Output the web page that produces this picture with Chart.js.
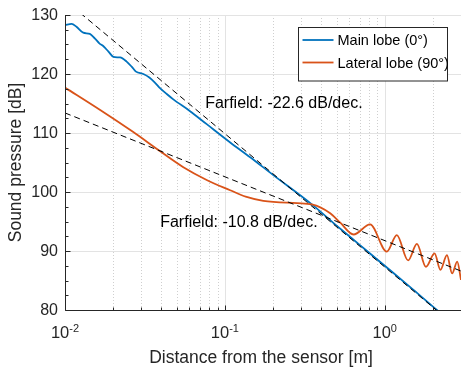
<!DOCTYPE html>
<html>
<head>
<meta charset="utf-8">
<script src="https://cdn.jsdelivr.net/npm/chart.js@4.4.0/dist/chart.umd.min.js"></script>
<style>
  html, body { margin: 0; padding: 0; background: #fff; }
</style>
</head>
<body>
<canvas id="myChart" width="461" height="367"></canvas>
<script>
// distance [m] and sound pressure [dB]
const mainX = [0.01, 0.011, 0.0118, 0.013, 0.0143, 0.0154, 0.0164, 0.0174, 0.0187, 0.0201, 0.0221, 0.0243, 0.0262, 0.0278, 0.0309, 0.0337, 0.0366, 0.0393, 0.0433, 0.0476, 0.0606, 0.077, 0.108, 0.144, 0.2, 0.35, 0.5, 0.7, 1.0, 1.5, 2.12, 2.3];
const mainY = [128.3, 128.5, 128.0, 127.0, 126.8, 126.0, 125.2, 124.7, 123.8, 122.9, 122.8, 122.1, 121.2, 120.4, 120.0, 119.4, 118.5, 117.6, 116.6, 115.7, 113.7, 111.5, 108.4, 105.9, 102.9, 97.9, 94.3, 91.0, 87.5, 83.5, 80.0, 79.2];

const latX = [0.01, 0.0166, 0.0266, 0.0394, 0.055, 0.0775, 0.108, 0.135, 0.174, 0.283, 0.35, 0.456, 0.527, 0.638, 0.81, 1.03, 1.19, 1.40, 1.59, 1.81, 2.05, 2.23, 2.45, 2.64, 2.84, 3.0];
const latY = [117.7, 113.9, 110.2, 106.9, 104.2, 102.0, 100.3, 99.2, 98.5, 98.1, 97.9, 96.4, 94.8, 92.8, 94.5, 89.9, 92.7, 88.4, 91.2, 87.3, 89.6, 86.8, 89.3, 86.2, 88.2, 85.1];

// farfield asymptotes (end points)
const farMainX = [0.01, 3];
const farMainY = [132.5, 76.5];
const farLatX = [0.01, 3];
const farLatY = [113.4, 86.6];

const xMajor = [0.01, 0.1, 1];
const xMinor = [0.02, 0.03, 0.04, 0.05, 0.06, 0.07, 0.08, 0.09, 0.2, 0.3, 0.4, 0.5, 0.6, 0.7, 0.8, 0.9, 2, 3];
const xTickExp = ['-2', '-1', '0'];
const yMajor = [80, 90, 100, 110, 120, 130];
const yMinor = [82.5, 85, 87.5, 92.5, 95, 97.5, 102.5, 105, 107.5, 112.5, 115, 117.5, 122.5, 125, 127.5];

const seriesNames = ['Main lobe (0°)', 'Lateral lobe (90°)'];
const notes = ['Farfield: -22.6 dB/dec.', 'Farfield: -10.8 dB/dec.'];

const FONT = '"Liberation Sans", Arial, Helvetica, sans-serif';
const INK = '#262626';
const BLUE = '#0072BD';
const ORANGE = '#D95319';

function pts(xs, ys) {
  return xs.map((x, i) => ({ x: x, y: ys[i] }));
}

const matlabLook = {
  id: 'matlabLook',
  beforeDatasetsDraw(chart) {
    const { ctx, chartArea: a } = chart;
    const xs = chart.scales.x, ys = chart.scales.y;
    ctx.save();
    ctx.beginPath();
    ctx.rect(a.left, a.top, a.right - a.left, a.bottom - a.top);
    ctx.clip();
    // minor x grid, dotted
    ctx.strokeStyle = '#cfcfcf';
    ctx.lineWidth = 1;
    ctx.setLineDash([1, 2]);
    xMinor.forEach(v => {
      const px = Math.round(xs.getPixelForValue(v)) + 0.5;
      ctx.beginPath(); ctx.moveTo(px, a.top); ctx.lineTo(px, a.bottom); ctx.stroke();
    });
    // major grid, solid
    ctx.setLineDash([]);
    ctx.strokeStyle = '#e3e3e3';
    xMajor.forEach(v => {
      const px = Math.round(xs.getPixelForValue(v)) + 0.5;
      ctx.beginPath(); ctx.moveTo(px, a.top); ctx.lineTo(px, a.bottom); ctx.stroke();
    });
    yMajor.forEach(v => {
      const py = Math.round(ys.getPixelForValue(v)) + 0.5;
      ctx.beginPath(); ctx.moveTo(a.left, py); ctx.lineTo(a.right, py); ctx.stroke();
    });
    ctx.restore();
  },
  afterDatasetsDraw(chart) {
    const { ctx, chartArea: a } = chart;
    const xs = chart.scales.x, ys = chart.scales.y;
    ctx.save();
    ctx.strokeStyle = INK;
    ctx.fillStyle = INK;
    ctx.lineWidth = 1;

    // axes lines
    const L = a.left + 0.5, B = Math.round(a.bottom) + 0.5;
    ctx.beginPath();
    ctx.moveTo(L, a.top); ctx.lineTo(L, B); ctx.lineTo(a.right, B);
    ctx.stroke();

    // inward ticks
    ctx.beginPath();
    xMajor.forEach(v => {
      const px = Math.round(xs.getPixelForValue(v)) + 0.5;
      ctx.moveTo(px, B); ctx.lineTo(px, B - 5);
    });
    xMinor.forEach(v => {
      const px = Math.round(xs.getPixelForValue(v)) + 0.5;
      ctx.moveTo(px, B); ctx.lineTo(px, B - 3);
    });
    yMajor.forEach(v => {
      const py = Math.round(ys.getPixelForValue(v)) + 0.5;
      ctx.moveTo(L, py); ctx.lineTo(L + 5, py);
    });
    yMinor.forEach(v => {
      const py = Math.round(ys.getPixelForValue(v)) + 0.5;
      ctx.moveTo(L, py); ctx.lineTo(L + 3, py);
    });
    ctx.stroke();

    // y tick labels
    ctx.font = '16px ' + FONT;
    ctx.textAlign = 'right';
    ctx.textBaseline = 'middle';
    yMajor.forEach(v => {
      ctx.fillText(String(v), a.left - 7, ys.getPixelForValue(v) + 1);
    });

    // x tick labels 10^k
    ctx.textAlign = 'left';
    ctx.textBaseline = 'alphabetic';
    xMajor.forEach((v, i) => {
      ctx.font = '16.5px ' + FONT;
      const wBase = ctx.measureText('10').width;
      ctx.font = '11px ' + FONT;
      const wExp = ctx.measureText(xTickExp[i]).width;
      const px = xs.getPixelForValue(v);
      const x0 = px - (wBase + wExp) / 2;
      ctx.font = '16.5px ' + FONT;
      ctx.fillText('10', x0, a.bottom + 28);
      ctx.font = '11px ' + FONT;
      ctx.fillText(xTickExp[i], x0 + wBase, a.bottom + 21.5);
    });

    // axis titles
    ctx.font = '17.5px ' + FONT;
    ctx.textAlign = 'center';
    ctx.textBaseline = 'middle';
    ctx.fillText('Distance from the sensor [m]', (a.left + a.right) / 2 - 2, a.bottom + 48);
    ctx.save();
    ctx.translate(16, (a.top + a.bottom) / 2);
    ctx.rotate(-Math.PI / 2);
    ctx.fillText('Sound pressure [dB]', 0, 0);
    ctx.restore();

    // farfield notes
    ctx.font = '16px ' + FONT;
    ctx.textAlign = 'left';
    ctx.fillStyle = '#000';
    ctx.fillText(notes[0], xs.getPixelForValue(0.0753), ys.getPixelForValue(114.9));
    ctx.fillText(notes[1], xs.getPixelForValue(0.0394), ys.getPixelForValue(94.8));

    // legend box
    const bx = 298.5, by = 27.5, bw = 149, bh = 53.5;
    ctx.fillStyle = '#fff';
    ctx.fillRect(bx, by, bw, bh);
    ctx.strokeStyle = INK;
    ctx.strokeRect(bx, by, bw, bh);
    const rows = [by + 12.5, by + 35];
    const cols = [BLUE, ORANGE];
    ctx.lineWidth = 1.8;
    rows.forEach((ry, i) => {
      ctx.strokeStyle = cols[i];
      ctx.beginPath(); ctx.moveTo(bx + 4, ry); ctx.lineTo(bx + 35, ry); ctx.stroke();
      ctx.fillStyle = '#000';
      ctx.font = '14.5px ' + FONT;
      ctx.textBaseline = 'middle';
      ctx.fillText(seriesNames[i], bx + 39, ry + 1);
    });
    ctx.restore();
  }
};

const ctx = document.getElementById('myChart').getContext('2d');
const chart = new Chart(ctx, {
  type: 'line',
  data: {
    datasets: [
      { label: 'far main', data: pts(farMainX, farMainY), borderColor: '#000', borderWidth: 1, borderDash: [6, 4], pointRadius: 0, order: 0 },
      { label: 'far lat', data: pts(farLatX, farLatY), borderColor: '#000', borderWidth: 1, borderDash: [6, 4], pointRadius: 0, order: 0 },
      { label: seriesNames[1], data: pts(latX, latY), borderColor: ORANGE, borderWidth: 1.8, pointRadius: 0, cubicInterpolationMode: 'monotone', order: 1 },
      { label: seriesNames[0], data: pts(mainX, mainY), borderColor: BLUE, borderWidth: 1.8, pointRadius: 0, cubicInterpolationMode: 'monotone', order: 2 }
    ]
  },
  options: {
    responsive: false,
    animation: false,
    layout: { padding: { top: 15, left: 0, right: 0, bottom: 0 } },
    plugins: { legend: { display: false }, tooltip: { enabled: false } },
    scales: {
      x: {
        type: 'logarithmic', min: 0.01, max: 3,
        ticks: { display: false }, grid: { display: false }, border: { display: false },
        afterFit(s) { s.height = 57; }
      },
      y: {
        min: 80, max: 130,
        ticks: { display: false }, grid: { display: false }, border: { display: false },
        afterFit(s) { s.width = 65; }
      }
    }
  },
  plugins: [matlabLook]
});
</script>
</body>
</html>
